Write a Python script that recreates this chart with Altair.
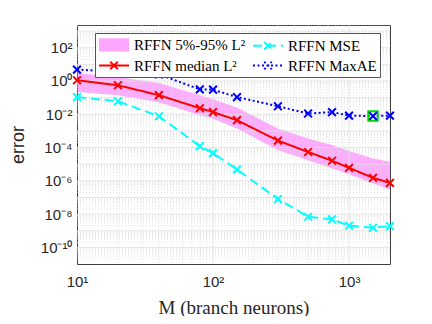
import altair as alt
import pandas as pd

# ---- data ----
M = [10, 20, 40, 80, 100, 150, 300, 500, 750, 1000, 1500, 2000]
median_L2 = [1.1, 0.55, 0.14, 0.023, 0.0135, 0.0044, 2.6e-4, 5.4e-5, 1.6e-5, 6.0e-6, 1.5e-6, 7.5e-7]
p05_L2 = [0.22, 0.14, 0.053, 0.0087, 0.0054, 0.0014, 7e-5, 1.7e-5, 5.5e-6, 2.5e-6, 6.9e-7, 3.0e-7]
p95_L2 = [3.0, 1.7, 0.74, 0.14, 0.08, 0.025, 1.4e-3, 3.5e-4, 1.4e-4, 6.2e-5, 2.2e-5, 1.4e-5]
mse = [0.107, 0.06, 0.0076, 1.2e-4, 4.6e-5, 4.8e-6, 8e-8, 6.9e-9, 4.8e-9, 2.0e-9, 1.5e-9, 1.9e-9]
maxae = [4.8, 3.6, 2.5, 0.31, 0.30, 0.107, 0.030, 0.011, 0.0135, 0.0083, 0.0077, 0.0083]
highlight_M = [1500]
highlight_val = [0.0077]

BAND = "RFFN 5%-95% L²"
MED = "RFFN median L²"
MSE = "RFFN MSE"
MAX = "RFFN MaxAE"
series_order = [BAND, MED, MSE, MAX]

x_ticks = [10, 100, 1000]
x_tick_labels = ["10¹", "10²", "10³"]
y_ticks = [1e-10, 1e-8, 1e-6, 1e-4, 1e-2, 1e0, 1e2]
y_tick_labels = ["10⁻¹⁰", "10⁻⁸", "10⁻⁶", "10⁻⁴", "10⁻²", "10⁰", "10²"]
x_major_grid = [100, 1000]
x_minor_grid = [k * 10 ** n for n in (1, 2, 3) for k in range(2, 10) if k * 10 ** n < 2000]
y_major_grid = [10.0 ** n for n in range(-10, 4)]
y_minor_grid = [k * 10.0 ** n for n in range(-11, 4) for k in range(2, 10) if k * 10.0 ** n < 2300]

# ---- tables ----
band_df = pd.DataFrame({"M": M, "lo": p05_L2, "hi": p95_L2})
long_df = pd.concat([
    pd.DataFrame({"M": M, "err": median_L2, "series": MED, "o": 0}),
    pd.DataFrame({"M": M, "err": mse, "series": MSE, "o": 1}),
    pd.DataFrame({"M": M, "err": maxae, "series": MAX, "o": 2}),
], ignore_index=True)
hl_df = pd.DataFrame({"M": highlight_M, "err": highlight_val})

xscale = alt.Scale(type="log", domain=[10, 2000], nice=False)
yscale = alt.Scale(type="log", domain=[1e-11, 2300], nice=False)


def label_expr(values, labels):
    # ternary chain: picks the label of the tick nearest (in log space) to datum.value
    expr = f"'{labels[-1]}'"
    for v, lab in reversed(list(zip(values[:-1], labels[:-1]))):
        expr = f"(datum.value < {v * 3.1623:.6g} ? '{lab}' : {expr})"
    return expr


TXT = "#262626"
xaxis = alt.Axis(values=x_ticks, labelExpr=label_expr(x_ticks, x_tick_labels), grid=False,
                 ticks=False, domain=False, labelFont="Liberation Sans", labelFontSize=15,
                 labelColor=TXT, labelPadding=10, labelFlush=False,
                 title="M (branch neurons)", titleFont="Liberation Serif", titleFontSize=19,
                 titleFontWeight="normal", titleColor=TXT, titleX=156.5, titleY=49,
                 titleBaseline="alphabetic", titleAlign="center")
yaxis = alt.Axis(values=y_ticks, labelExpr=label_expr(y_ticks, y_tick_labels), grid=False,
                 ticks=False, domain=False, labelFont="Liberation Sans", labelFontSize=15,
                 labelColor=TXT, labelPadding=5, labelFlush=False,
                 title="error", titleFont="Liberation Sans", titleFontSize=18,
                 titleFontWeight="normal", titleColor=TXT, titleX=-54, titleY=119.5,
                 titleBaseline="alphabetic", titleAlign="center", titleAngle=270)

color_scale = alt.Scale(domain=series_order, range=["#ffa6ff", "#ff0000", "#00ffff", "#0000ff"])
dash_scale = alt.Scale(domain=series_order, range=[[1, 0], [1, 0], [9, 5], [2, 2.5]])
line_x = "M-1,0L3,0M0.5,-0.5L1.5,0.5M0.5,0.5L1.5,-0.5"
band_sym = "".join(f"M-1,{y:.2f}L3,{y:.2f}" for y in [-0.75 + 0.15 * i for i in range(11)])
shape_scale = alt.Scale(domain=series_order, range=[band_sym, line_x, line_x, line_x])

leg_kw = dict(title=None, orient="none", legendX=18, legendY=8, columns=2, columnPadding=3,
              rowPadding=2, symbolSize=225, symbolStrokeWidth=2, symbolOpacity=1,
              labelOffset=19, labelFont="Liberation Serif", labelFontSize=15, labelColor="black",
              fillColor="white", strokeColor="#555555", padding=3)


def leg():
    return alt.Legend(**leg_kw)


# ---- grid ----
gx_minor = alt.Chart(pd.DataFrame({"v": x_minor_grid})).mark_rule(
    color="#d4d4d4", strokeWidth=0.6, strokeDash=[1, 2]).encode(x=alt.X("v:Q", scale=xscale))
gx_major = alt.Chart(pd.DataFrame({"v": x_major_grid})).mark_rule(
    color="#e0e0e0", strokeWidth=0.8).encode(x=alt.X("v:Q", scale=xscale))
gy_minor = alt.Chart(pd.DataFrame({"v": y_minor_grid})).mark_rule(
    color="#d4d4d4", strokeWidth=0.6, strokeDash=[1, 2]).encode(y=alt.Y("v:Q", scale=yscale))
gy_major = alt.Chart(pd.DataFrame({"v": y_major_grid})).mark_rule(
    color="#e0e0e0", strokeWidth=0.8).encode(y=alt.Y("v:Q", scale=yscale))

# ---- data marks ----
band = alt.Chart(band_df).mark_area(color="#ff00ff", opacity=0.33).encode(
    x=alt.X("M:Q", scale=xscale, axis=xaxis),
    y=alt.Y("lo:Q", scale=yscale, axis=yaxis),
    y2="hi:Q",
)
lines = alt.Chart(long_df).mark_line(strokeWidth=2).encode(
    x=alt.X("M:Q", scale=xscale),
    y=alt.Y("err:Q", scale=yscale),
    color=alt.Color("series:N", scale=color_scale, legend=leg()),
    strokeDash=alt.StrokeDash("series:N", scale=dash_scale, legend=leg()),
    order="o:Q",
)
hl = alt.Chart(hl_df).mark_point(shape="square", size=90, color="#00dd00", strokeWidth=2,
                                 filled=False, opacity=1).encode(
    x=alt.X("M:Q", scale=xscale), y=alt.Y("err:Q", scale=yscale))
pts = alt.Chart(long_df).mark_point(shape="M-1,-1L1,1M-1,1L1,-1", size=60, strokeWidth=2,
                                    filled=False, opacity=1).encode(
    x=alt.X("M:Q", scale=xscale),
    y=alt.Y("err:Q", scale=yscale),
    color=alt.Color("series:N", scale=color_scale, legend=leg()),
)
legend_layer = alt.Chart(long_df).transform_filter("false").mark_point(
    filled=False, opacity=1, strokeWidth=2).encode(
    x=alt.X("M:Q", scale=xscale),
    y=alt.Y("err:Q", scale=yscale),
    color=alt.Color("series:N", scale=color_scale, legend=leg()),
    shape=alt.Shape("series:N", scale=shape_scale, legend=leg()),
    strokeDash=alt.StrokeDash("series:N", scale=dash_scale, legend=leg()),
)

chart = alt.layer(
    band, gy_minor, gx_minor, gy_major, gx_major, lines, hl, pts, legend_layer
).properties(
    width=313, height=239,
    autosize=alt.AutoSizeParams(type="none"),
    padding={"left": 69, "top": 17, "right": 34, "bottom": 52},
    background="white",
).configure_view(stroke="#404040", strokeWidth=1)

chart.save("out.html", embed_options={"renderer": "svg", "actions": False})
